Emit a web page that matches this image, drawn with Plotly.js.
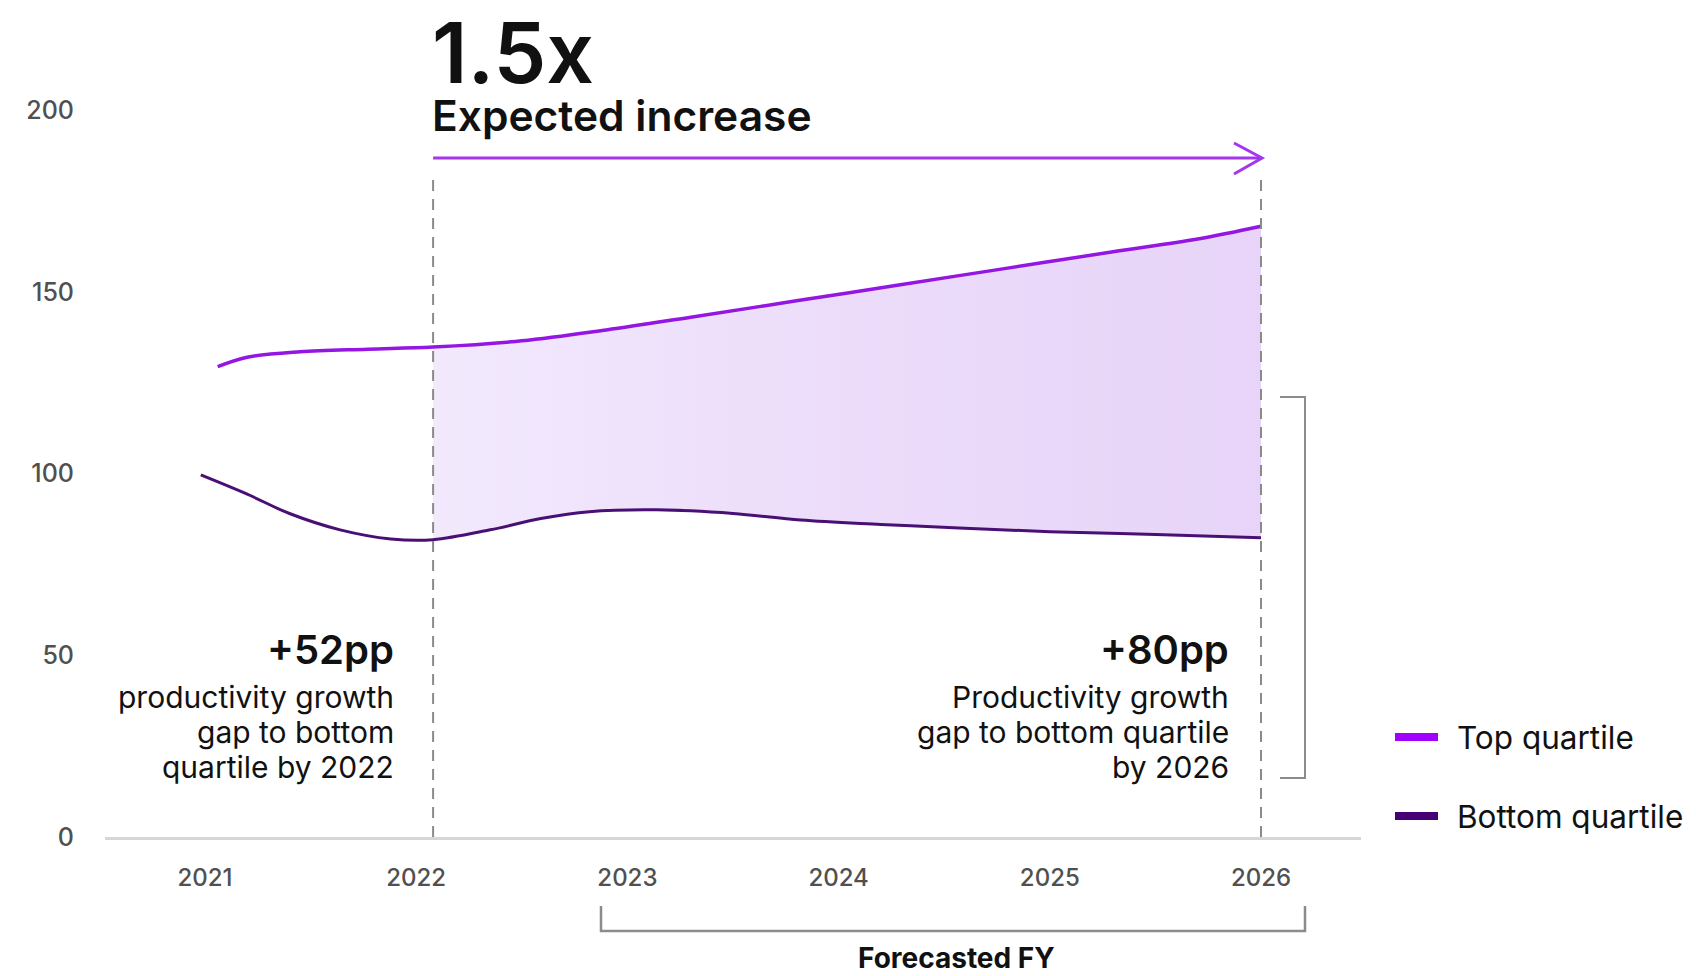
<!DOCTYPE html>
<html>
<head>
<meta charset="utf-8">
<script src="https://cdn.plot.ly/plotly-3.0.1.min.js"></script>
<style>
  html, body { margin: 0; padding: 0; background: #ffffff; }
  #chart { width: 1696px; height: 976px; }
</style>
</head>
<body>
<div id="chart"></div>
<script>
// ---- Data ----
const yearTicks = [2021, 2022, 2023, 2024, 2025, 2026];
const yearTickLabels = ['2021', '2022', '2023', '2024', '2025', '2026'];
const valueTicks = [0, 50, 100, 150, 200];
const valueTickLabels = ['0', '50', '100', '150', '200'];

const topX = [2021.06, 2021.2, 2021.45, 2021.77, 2022.08, 2022.5, 2022.9, 2023.3, 2023.8, 2024.3, 2024.8, 2025.3, 2025.7, 2026.0];
const topY = [129.4, 132.0, 133.5, 134.2, 134.8, 136.5, 139.5, 143.0, 147.5, 152.0, 156.5, 161.0, 164.5, 168.0];

const bottomX = [2020.98, 2021.2, 2021.4, 2021.64, 2021.88, 2022.08, 2022.35, 2022.59, 2022.82, 2023.14, 2023.5, 2023.82, 2024.2, 2024.57, 2025.0, 2025.5, 2026.0];
const bottomY = [99.6, 94.3, 89.0, 84.5, 82.0, 81.8, 84.5, 87.6, 89.5, 90.0, 89.0, 87.2, 86.0, 85.0, 84.0, 83.2, 82.3];

const forecastStart = 2022.08;   // start of the shaded gap (dashed line)
const forecastEnd = 2026.0;

const seriesNames = ['Top quartile', 'Bottom quartile'];
const seriesLegendColors = ['#a100ff', '#460073'];
const labels = {
  big: '1.5x',
  bigSub: 'Expected increase',
  leftHead: '+52pp',
  leftBody: ['productivity growth', 'gap to bottom', 'quartile by 2022'],
  rightHead: '+80pp',
  rightBody: ['Productivity growth', 'gap to bottom quartile', 'by 2026'],
  forecast: 'Forecasted FY'
};

// ---- Layout geometry (pixels) ----
const W = 1696, H = 976;
const PL = 105, PR = 1361, PT = 36, PB = 837;
const X0PX = 205, XSTEP = 211.2;  // px of 2021 and px per year
const YSTEP = 3.635;               // px per unit
const xOf = px => 2021 + (px - X0PX) / XSTEP;
const yOf = py => (PB - py) / YSTEP;
const pX = px => (px - PL) / (PR - PL);
const pY = py => (PB - py) / (PB - PT);

const TOP_COLOR = '#9316e3';
const BOTTOM_COLOR = '#4a0f74';
const FONT = 'Inter, "Open Sans", sans-serif';

const sub = (xs, ys) => {
  const ox = [], oy = [];
  xs.forEach((x, i) => { if (x >= forecastStart - 1e-9 && x <= forecastEnd + 1e-9) { ox.push(x); oy.push(ys[i]); } });
  return [ox, oy];
};
const [fbX, fbY] = sub(bottomX, bottomY);
const [ftX, ftY] = sub(topX, topY);

const traces = [
  { x: fbX, y: fbY, type: 'scatter', mode: 'lines', line: { width: 0, shape: 'spline' },
    showlegend: false, hoverinfo: 'skip' },
  { x: ftX, y: ftY, type: 'scatter', mode: 'lines', line: { width: 0, shape: 'spline' },
    fill: 'tonexty',
    fillgradient: { type: 'horizontal', colorscale: [[0, '#f2e9fd'], [0.5, '#ecdcfa'], [1, '#e7d4f8']] },
    showlegend: false, hoverinfo: 'skip' },
  { x: bottomX, y: bottomY, type: 'scatter', mode: 'lines', name: seriesNames[1],
    line: { color: BOTTOM_COLOR, width: 3, shape: 'spline' }, showlegend: false },
  { x: topX, y: topY, type: 'scatter', mode: 'lines', name: seriesNames[0],
    line: { color: TOP_COLOR, width: 3.5, shape: 'spline' }, showlegend: false }
];

const gray = '#8a8a8a';
const shapes = [
  { type: 'line', xref: 'x', yref: 'y', x0: forecastStart, x1: forecastStart, y0: 0, y1: yOf(178),
    line: { color: gray, width: 2, dash: '11px,8px' } },
  { type: 'line', xref: 'x', yref: 'y', x0: forecastEnd, x1: forecastEnd, y0: 0, y1: yOf(178),
    line: { color: gray, width: 2, dash: '11px,8px' } },
  { type: 'line', xref: 'x', yref: 'y', x0: forecastStart, x1: forecastEnd, y0: yOf(158), y1: yOf(158),
    line: { color: '#a436ef', width: 3 } },
  { type: 'path', xref: 'paper', yref: 'paper',
    path: `M ${pX(1234)} ${pY(143)} L ${pX(1262)} ${pY(158)} L ${pX(1234)} ${pY(174)}`,
    line: { color: '#a436ef', width: 3 } },
  { type: 'path', xref: 'paper', yref: 'paper',
    path: `M ${pX(1280)} ${pY(397)} L ${pX(1305)} ${pY(397)} L ${pX(1305)} ${pY(778)} L ${pX(1280)} ${pY(778)}`,
    line: { color: '#8c8c8c', width: 2 } },
  { type: 'path', xref: 'paper', yref: 'paper',
    path: `M ${pX(601)} ${pY(906)} L ${pX(601)} ${pY(931)} L ${pX(1305)} ${pY(931)} L ${pX(1305)} ${pY(906)}`,
    line: { color: '#8c8c8c', width: 2.5 } }
];

const ann = (text, px, py, size, weight, opts) => Object.assign({
  text: text, xref: 'paper', yref: 'paper', x: pX(px), y: pY(py),
  showarrow: false, font: { family: FONT, size: size, color: '#111111', weight: weight }
}, opts || {});

const annotations = [
  ann('<span style="font-size:84px">' + labels.big + '</span><br><span style="font-size:42.5px">' + labels.bigSub + '</span>',
      430, 0, 37, 600, { xanchor: 'left', yanchor: 'top', align: 'left' }),
  ann(labels.leftHead, 396, 649, 40, 600, { xanchor: 'right', yanchor: 'middle' }),
  ann(labels.rightHead, 1231, 649, 40, 600, { xanchor: 'right', yanchor: 'middle' }),
  ann(labels.forecast, 956, 958, 28, 700, { xanchor: 'center', yanchor: 'middle' })
];
const lineCenters = [697, 732, 767];
labels.leftBody.forEach((t, i) => annotations.push(ann(t, 396, lineCenters[i], 30, 400, { xanchor: 'right', yanchor: 'middle' })));
labels.rightBody.forEach((t, i) => annotations.push(ann(t, 1231, lineCenters[i], 30, 400, { xanchor: 'right', yanchor: 'middle' })));

// legend (drawn as line swatches + text)
const legendRows = [737, 816];
seriesNames.forEach((name, i) => {
  shapes.push({ type: 'line', xref: 'paper', yref: 'paper',
    x0: pX(1395), x1: pX(1438), y0: pY(legendRows[i]), y1: pY(legendRows[i]),
    line: { color: seriesLegendColors[i], width: 8 } });
  annotations.push(ann(name, 1455, legendRows[i], 31.5, 400, { xanchor: 'left', yanchor: 'middle' }));
});

const layout = {
  width: W, height: H,
  paper_bgcolor: '#ffffff', plot_bgcolor: '#ffffff',
  margin: { l: PL, r: W - PR, t: PT, b: H - PB, pad: 0 },
  font: { family: FONT },
  showlegend: false,
  xaxis: {
    range: [xOf(PL), xOf(PR)], tickmode: 'array', tickvals: yearTicks, ticktext: yearTickLabels,
    showgrid: false, zeroline: false, showline: true, linecolor: '#d6d6d6', linewidth: 3,
    ticks: 'outside', ticklen: 17, tickcolor: 'rgba(0,0,0,0)',
    tickfont: { family: FONT, size: 24, color: '#505050', weight: 500 }, fixedrange: true
  },
  yaxis: {
    range: [0, yOf(PT)], tickmode: 'array', tickvals: valueTicks, ticktext: valueTickLabels,
    showgrid: false, zeroline: false, showline: false,
    ticks: 'outside', ticklen: 25, tickcolor: 'rgba(0,0,0,0)',
    tickfont: { family: FONT, size: 25, color: '#505050', weight: 500 }, fixedrange: true
  },
  shapes: shapes,
  annotations: annotations
};

Plotly.newPlot('chart', traces, layout, { displayModeBar: false, staticPlot: true });
</script>
</body>
</html>
